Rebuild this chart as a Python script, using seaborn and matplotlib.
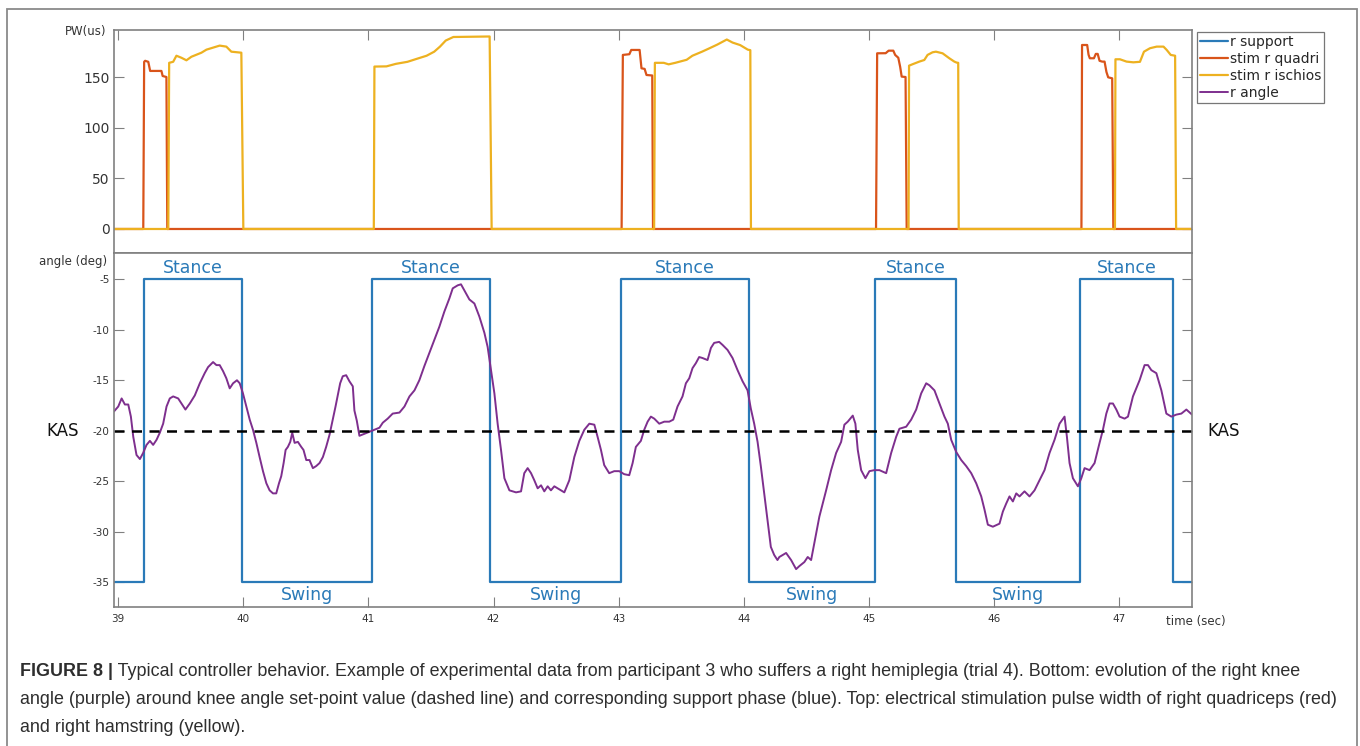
import matplotlib
matplotlib.use("Agg")
import matplotlib.pyplot as plt
import seaborn as sns
from matplotlib.patches import Rectangle

# time window (sec)
t_start, t_end = 38.966, 47.584

# support phase: switching times between swing (-35) and stance (-5)
support_edges = [39.205, 39.99, 41.03, 41.975, 43.02, 44.045, 45.05, 45.70, 46.69, 47.43]
support_low, support_high = -35, -5
kas_value = -20

# stimulation pulse width, right quadriceps (us)
quadri_t = [38.966,
            39.200, 39.207, 39.215, 39.240, 39.255, 39.345, 39.355, 39.385, 39.392,
            43.024, 43.034, 43.086, 43.101, 43.168, 43.183, 43.208, 43.223, 43.269, 43.275,
            45.058, 45.067, 45.135, 45.159, 45.196, 45.211, 45.236, 45.251, 45.263, 45.294, 45.303,
            46.700, 46.705, 46.746, 46.757, 46.767, 46.800, 46.815, 46.830, 46.845, 46.866,
            46.885, 46.900, 46.914, 46.946, 46.955,
            47.584]
quadri_pw = [0,
             0, 165, 166, 165, 156, 156, 151, 150, 0,
             0, 171.8, 172.5, 176.7, 176.7, 158.6, 158, 152, 151.5, 0,
             0, 173.4, 173.5, 176, 176, 171.8, 169, 160, 150.4, 150, 0,
             0, 181.6, 181.6, 172, 168.5, 168.5, 172.8, 172.8, 166, 165.2,
             165.2, 155, 149.7, 148.7, 0,
             0]

# stimulation pulse width, right hamstring (us)
ischios_t = [38.966,
             39.400, 39.407, 39.439, 39.465, 39.505, 39.545, 39.585, 39.625, 39.665, 39.705,
             39.758, 39.811, 39.864, 39.904, 39.984, 40.000,
             41.043, 41.048, 41.144, 41.220, 41.312, 41.388, 41.465, 41.526, 41.572, 41.618,
             41.679, 41.969, 41.985,
             43.284, 43.290, 43.361, 43.400, 43.453, 43.544, 43.590, 43.667, 43.720, 43.789,
             43.865, 43.911, 43.972, 44.033, 44.053, 44.058,
             45.318, 45.322, 45.350, 45.404, 45.444, 45.470, 45.510, 45.537, 45.590, 45.644,
             45.684, 45.703, 45.715, 45.719,
             46.968, 46.972, 47.008, 47.061, 47.115, 47.168, 47.200, 47.248, 47.302, 47.356,
             47.382, 47.414, 47.449, 47.457,
             47.584]
ischios_pw = [0,
              0, 164, 165, 171, 169, 166.5, 170, 172, 174, 177,
              179, 181, 180, 175, 174, 0,
              0, 160.3, 160.5, 163, 165, 168, 171, 175, 180, 186,
              189.5, 190, 0,
              0, 164, 164, 162.5, 164, 167, 171, 175, 178, 182,
              187, 184, 181.5, 177, 176.5, 0,
              0, 161.2, 162.6, 165.2, 166.8, 171.8, 174.4, 175, 173.4, 168.5,
              165.2, 164.2, 164, 0,
              0, 167.5, 167.5, 165.2, 164.5, 165, 175, 178.4, 180, 180,
              176.7, 171.8, 171, 0,
              0]

# right knee angle (deg)
angle_t = [38.965, 39.000, 39.027, 39.053, 39.080, 39.101, 39.120, 39.146, 39.173, 39.199,
           39.226, 39.253, 39.279, 39.306, 39.332, 39.359, 39.386, 39.412, 39.439, 39.479,
           39.505, 39.537, 39.572, 39.612, 39.652, 39.691, 39.718, 39.758, 39.785, 39.811,
           39.838, 39.864, 39.891, 39.918, 39.949, 39.971, 39.997, 40.024, 40.051, 40.077,
           40.104, 40.130, 40.157, 40.184, 40.210, 40.237, 40.263, 40.285, 40.303, 40.322,
           40.338, 40.356, 40.375, 40.391, 40.410, 40.436, 40.463, 40.481, 40.503, 40.529,
           40.556, 40.582, 40.609, 40.636, 40.662, 40.689, 40.715, 40.737, 40.755, 40.774,
           40.795, 40.822, 40.848, 40.875, 40.888, 40.907, 40.928, 40.968, 41.008, 41.048,
           41.088, 41.115, 41.154, 41.194, 41.248, 41.288, 41.328, 41.368, 41.407, 41.447,
           41.487, 41.527, 41.567, 41.607, 41.647, 41.674, 41.714, 41.740, 41.767, 41.807,
           41.847, 41.887, 41.927, 41.953, 41.980, 42.007, 42.033, 42.060, 42.087, 42.127,
           42.180, 42.220, 42.246, 42.273, 42.300, 42.326, 42.353, 42.380, 42.406, 42.433,
           42.459, 42.486, 42.526, 42.566, 42.606, 42.646, 42.686, 42.726, 42.766, 42.806,
           42.832, 42.859, 42.885, 42.925, 42.965, 43.005, 43.045, 43.085, 43.112, 43.138,
           43.178, 43.205, 43.232, 43.258, 43.285, 43.325, 43.365, 43.405, 43.437, 43.471,
           43.511, 43.538, 43.565, 43.591, 43.618, 43.644, 43.671, 43.711, 43.738, 43.764,
           43.804, 43.831, 43.871, 43.911, 43.951, 43.991, 44.031, 44.057, 44.084, 44.111,
           44.137, 44.164, 44.190, 44.217, 44.244, 44.270, 44.285, 44.339, 44.379, 44.419,
           44.445, 44.485, 44.512, 44.539, 44.565, 44.605, 44.632, 44.659, 44.699, 44.739,
           44.779, 44.805, 44.832, 44.872, 44.893, 44.912, 44.939, 44.973, 45.005, 45.045,
           45.085, 45.139, 45.179, 45.219, 45.245, 45.299, 45.339, 45.379, 45.419, 45.459,
           45.485, 45.525, 45.565, 45.605, 45.632, 45.659, 45.699, 45.739, 45.779, 45.819,
           45.859, 45.899, 45.925, 45.952, 45.992, 46.045, 46.072, 46.099, 46.125, 46.152,
           46.179, 46.205, 46.245, 46.285, 46.325, 46.365, 46.405, 46.445, 46.485, 46.525,
           46.565, 46.584, 46.605, 46.632, 46.672, 46.699, 46.725, 46.765, 46.805, 46.845,
           46.872, 46.899, 46.925, 46.952, 46.979, 47.005, 47.045, 47.072, 47.112, 47.165,
           47.205, 47.232, 47.259, 47.299, 47.339, 47.379, 47.419, 47.459, 47.499, 47.539,
           47.584]
angle_deg = [-18.1, -17.6, -16.8, -17.4, -17.4, -18.6, -20.6, -22.4, -22.8, -22.2,
             -21.4, -21.0, -21.4, -20.9, -20.2, -19.3, -17.6, -16.8, -16.6, -16.8,
             -17.3, -17.9, -17.3, -16.5, -15.3, -14.3, -13.7, -13.2, -13.5, -13.5,
             -14.1, -14.8, -15.8, -15.3, -15.0, -15.3, -16.3, -17.6, -18.9, -19.9,
             -21.2, -22.6, -24.0, -25.2, -25.9, -26.2, -26.2, -25.2, -24.5, -23.2,
             -21.9, -21.6, -21.1, -20.2, -21.2, -21.1, -21.6, -21.9, -22.9, -22.9,
             -23.7, -23.5, -23.2, -22.6, -21.6, -20.4, -18.9, -17.6, -16.5, -15.3,
             -14.6, -14.5, -15.1, -15.6, -18.0, -19.0, -20.5, -20.3, -20.1, -19.9,
             -19.7, -19.2, -18.8, -18.3, -18.2, -17.6, -16.6, -16.0, -15.0, -13.6,
             -12.3, -11.0, -9.7, -8.2, -6.9, -5.9, -5.6, -5.5, -6.1, -7.0,
             -7.4, -8.7, -10.3, -11.7, -14.0, -16.3, -19.3, -21.9, -24.7, -25.9,
             -26.1, -26.0, -24.2, -23.7, -24.2, -24.9, -25.7, -25.4, -26.0, -25.5,
             -25.9, -25.5, -25.8, -26.1, -24.9, -22.6, -21.0, -19.9, -19.3, -19.4,
             -20.6, -21.9, -23.4, -24.2, -24.0, -24.0, -24.3, -24.4, -23.2, -21.6,
             -21.0, -19.9, -19.1, -18.6, -18.8, -19.3, -19.1, -19.1, -18.9, -17.6,
             -16.6, -15.3, -14.8, -13.8, -13.3, -12.7, -12.8, -13.0, -11.8, -11.3,
             -11.2, -11.5, -12.0, -12.8, -14.0, -15.1, -16.0, -17.8, -19.3, -21.1,
             -23.5, -26.2, -28.8, -31.5, -32.3, -32.8, -32.5, -32.1, -32.8, -33.7,
             -33.4, -33.0, -32.5, -32.8, -31.1, -28.5, -27.2, -25.9, -23.9, -22.2,
             -21.1, -19.4, -19.1, -18.5, -19.3, -21.9, -23.9, -24.7, -24.0, -23.9,
             -23.9, -24.2, -22.2, -20.6, -19.8, -19.6, -18.9, -17.9, -16.3, -15.3,
             -15.5, -16.0, -17.3, -18.6, -19.3, -20.9, -22.1, -22.9, -23.5, -24.2,
             -25.2, -26.5, -27.8, -29.3, -29.5, -29.2, -28.0, -27.2, -26.5, -27.0,
             -26.2, -26.5, -26.0, -26.5, -25.9, -24.9, -23.9, -22.2, -20.9, -19.3,
             -18.6, -20.6, -23.2, -24.7, -25.5, -24.7, -23.7, -23.9, -23.2, -21.2,
             -19.9, -18.3, -17.3, -17.3, -17.9, -18.6, -18.8, -18.6, -16.6, -15.0,
             -13.5, -13.5, -14.0, -14.3, -16.0, -18.3, -18.6, -18.4, -18.3, -17.9,
             -18.4]

time_ticks = list(range(39, 48))
pw_ticks = [0, 50, 100, 150]
angle_ticks = [-35, -30, -25, -20, -15, -10, -5]

legend_labels = ["r support", "stim r quadri", "stim r ischios", "r angle"]
colors = {"r support": "#2a7ab8", "stim r quadri": "#d9541a",
          "stim r ischios": "#edb120", "r angle": "#7e2f8e"}
spine_col = "#808080"
text_col = "#333333"

caption_bold = "FIGURE 8 |"
caption_lines = [
    " Typical controller behavior. Example of experimental data from participant 3 who suffers a right hemiplegia (trial 4). Bottom: evolution of the right knee",
    "angle (purple) around knee angle set-point value (dashed line) and corresponding support phase (blue). Top: electrical stimulation pulse width of right quadriceps (red)",
    "and right hamstring (yellow).",
]

# support square wave built from its switching times
sup_t, sup_v = [t_start], [support_low]
level = support_low
for e in support_edges:
    other = support_high if level == support_low else support_low
    sup_t += [e, e]
    sup_v += [level, other]
    level = other
sup_t.append(t_end)
sup_v.append(level)

sns.set_style("white")
plt.rcParams["font.family"] = ["DejaVu Sans"]
plt.rcParams["axes.unicode_minus"] = False

fig = plt.figure(figsize=(13.6, 7.46), dpi=100)
W, H = 1360, 746
left, width = 114 / W, (1192 - 114) / W
ax_top = fig.add_axes([left, 1 - 253 / H, width, (253 - 30) / H])
ax_bot = fig.add_axes([left, 1 - 607 / H, width, (607 - 253) / H])

# top: stimulation
sns.lineplot(x=quadri_t, y=quadri_pw, ax=ax_top, color=colors["stim r quadri"],
             lw=1.6, estimator=None, sort=False, legend=False, label="stim r quadri")
sns.lineplot(x=ischios_t, y=ischios_pw, ax=ax_top, color=colors["stim r ischios"],
             lw=1.6, estimator=None, sort=False, legend=False, label="stim r ischios")
ax_top.set_xlim(t_start, t_end)
ax_top.set_ylim(-23.7, 196.4)
ax_top.set_xticks(time_ticks)
ax_top.set_yticks(pw_ticks)
ax_top.tick_params(axis="x", bottom=False, top=True, labelbottom=False,
                   direction="in", length=7, color=spine_col)
ax_top.tick_params(axis="y", left=True, right=True, direction="in", length=7,
                   color=spine_col, labelsize=10, labelcolor=text_col, pad=3)
ax_top.set_xlabel("")
ax_top.set_ylabel("")

# bottom: knee angle and support phase
sns.lineplot(x=sup_t, y=sup_v, ax=ax_bot, color=colors["r support"], lw=1.6,
             estimator=None, sort=False, legend=False, label="r support")
sns.lineplot(x=angle_t, y=angle_deg, ax=ax_bot, color=colors["r angle"], lw=1.4,
             estimator=None, sort=False, legend=False, label="r angle")
ax_bot.axhline(kas_value, color="black", lw=1.8, dashes=(4, 3))
ax_bot.set_xlim(t_start, t_end)
ax_bot.set_ylim(-37.45, -2.4)
ax_bot.set_xticks(time_ticks)
ax_bot.set_yticks(angle_ticks)
ax_bot.tick_params(axis="x", bottom=True, top=False, direction="in", length=7,
                   color=spine_col, labelsize=7.5, labelcolor=text_col, pad=5)
ax_bot.tick_params(axis="y", left=True, right=True, direction="in", length=7,
                   color=spine_col, labelsize=7.5, labelcolor=text_col, pad=3)
ax_bot.set_xlabel("")
ax_bot.set_ylabel("")

for i in range(0, len(support_edges) - 1, 2):
    ax_bot.text((support_edges[i] + support_edges[i + 1]) / 2, -3.88, "Stance",
                ha="center", va="center", fontsize=12.5, color=colors["r support"])
for i in range(1, len(support_edges) - 1, 2):
    ax_bot.text((support_edges[i] + support_edges[i + 1]) / 2, -36.26, "Swing",
                ha="center", va="center", fontsize=12.5, color=colors["r support"])

for ax in (ax_top, ax_bot):
    for s in ax.spines.values():
        s.set_visible(True)
        s.set_color(spine_col)
        s.set_linewidth(1.2)

# axis captions
fig.text(106 / W, 1 - 32 / H, "PW(us)", ha="right", va="center", fontsize=8.5, color=text_col)
fig.text(107 / W, 1 - 262 / H, "angle (deg)", ha="right", va="center", fontsize=8.5, color=text_col)
fig.text(1166 / W, 1 - 621 / H, "time (sec)", ha="left", va="center", fontsize=8.5, color=text_col)
ax_bot.annotate("KAS", xy=(0, kas_value), xycoords=("axes fraction", "data"),
                xytext=(-25, 0), textcoords="offset points", ha="right", va="center",
                fontsize=12, color="#111111")
ax_bot.annotate("KAS", xy=(1, kas_value), xycoords=("axes fraction", "data"),
                xytext=(11, 0), textcoords="offset points", ha="left", va="center",
                fontsize=12, color="#111111")

# legend
handles = {}
for ax in (ax_top, ax_bot):
    for ln in ax.get_lines():
        if ln.get_label() in legend_labels:
            handles[ln.get_label()] = ln
leg = fig.legend([handles[k] for k in legend_labels], legend_labels,
                 loc="upper left", bbox_to_anchor=(1197 / W, 1 - 32 / H),
                 fontsize=10, frameon=True, fancybox=False, borderaxespad=0,
                 borderpad=0.2, handlelength=2.0, handletextpad=0.15,
                 labelspacing=0.22)
leg.get_frame().set_edgecolor("#555555")
leg.get_frame().set_linewidth(0.9)

# outer frame (bottom edge runs off the image)
fig.add_artist(Rectangle((7 / W, -10 / H), (1357 - 7) / W, (737 + 10) / H,
                         transform=fig.transFigure, fill=False,
                         edgecolor="#8a8a8a", lw=1.3))

# caption
cap_font = ["Liberation Sans", "DejaVu Sans"]
cap_col = "#2e2e2e"
cap_size = 12.9
cap_y = [671, 699, 727]
bold = fig.text(20 / W, 1 - cap_y[0] / H, caption_bold, ha="left", va="center",
                fontsize=cap_size, fontweight="bold", family=cap_font, color=cap_col)
ax_top.annotate(caption_lines[0], xy=(1, 0), xycoords=bold, ha="left", va="bottom",
                fontsize=cap_size, family=cap_font, color=cap_col, annotation_clip=False)
for y, line in zip(cap_y[1:], caption_lines[1:]):
    fig.text(20 / W, 1 - y / H, line, ha="left", va="center", fontsize=cap_size,
             family=cap_font, color=cap_col)

fig.savefig("out.png", dpi=100, facecolor="white")
